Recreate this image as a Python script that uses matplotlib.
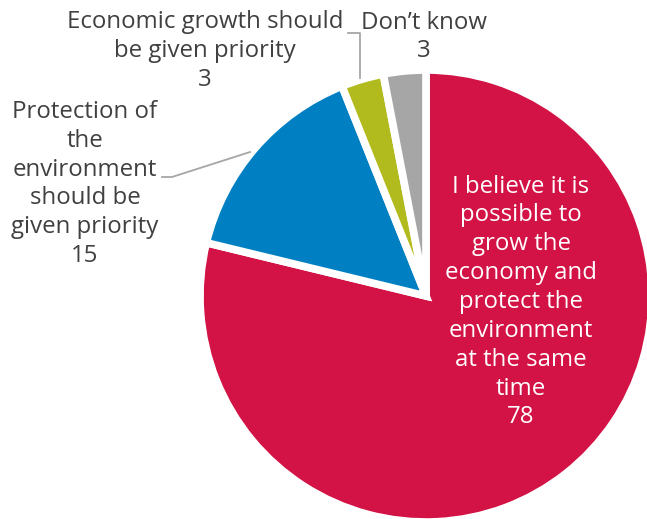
import matplotlib
matplotlib.use('Agg')
from matplotlib import pyplot as plt

plt.rcParams['font.family'] = ['Open Sans', 'DejaVu Sans']

# Survey answers, clockwise from 12 o'clock
labels = ['I believe it is\npossible to\ngrow the\neconomy and\nprotect the\nenvironment\nat the same\ntime',
          'Protection of\nthe\nenvironment\nshould be\ngiven priority',
          'Economic growth should\nbe given priority',
          'Don\u2019t know']
values = [78, 15, 3, 3]
colors = ['#D31245', '#0080C3', '#B2BB1E', '#A6A6A6']

W, H = 647, 519
CX, CY, R = 426, 296, 226

def px(x, y):
    # pixel position (from top-left) -> data coordinates of the pie
    return (x - CX) / R, (CY - y) / R

fig = plt.figure(figsize=(W/100, H/100), dpi=100)
ax = fig.add_axes([0, 0, 1, 1])
ax.pie(values, colors=colors, startangle=90, counterclock=False, radius=1.0,
       wedgeprops=dict(edgecolor='white', linewidth=5.5))
ax.set_xlim(-CX/R, (W-CX)/R)
ax.set_ylim(-(H-CY)/R, CY/R)
ax.set_aspect('auto')
ax.axis('off')

txt = '#404040'
fs = 17.3
ls = 1.27

ax.text(*px(521, 302), f'{labels[0]}\n{values[0]}', color='white', fontsize=fs,
        ha='center', va='center', linespacing=ls)
ax.text(*px(85, 184), f'{labels[1]}\n{values[1]}', color=txt, fontsize=fs,
        ha='center', va='center', linespacing=ls)
ax.text(*px(205, 51), f'{labels[2]}\n{values[2]}', color=txt, fontsize=fs,
        ha='center', va='center', linespacing=ls)
ax.text(*px(424, 37), f'{labels[3]}\n{values[3]}', color=txt, fontsize=fs,
        ha='center', va='center', linespacing=ls)

# leader lines
lc = '#A6A6A6'
xs, ys = zip(*[px(250, 152), px(172, 177), px(162, 177)])
ax.plot(xs, ys, color=lc, lw=1.3)
xs, ys = zip(*[px(360, 78), px(360, 33), px(348, 33)])
ax.plot(xs, ys, color=lc, lw=1.3)

plt.savefig('out.png', dpi=100)
plt.close()
